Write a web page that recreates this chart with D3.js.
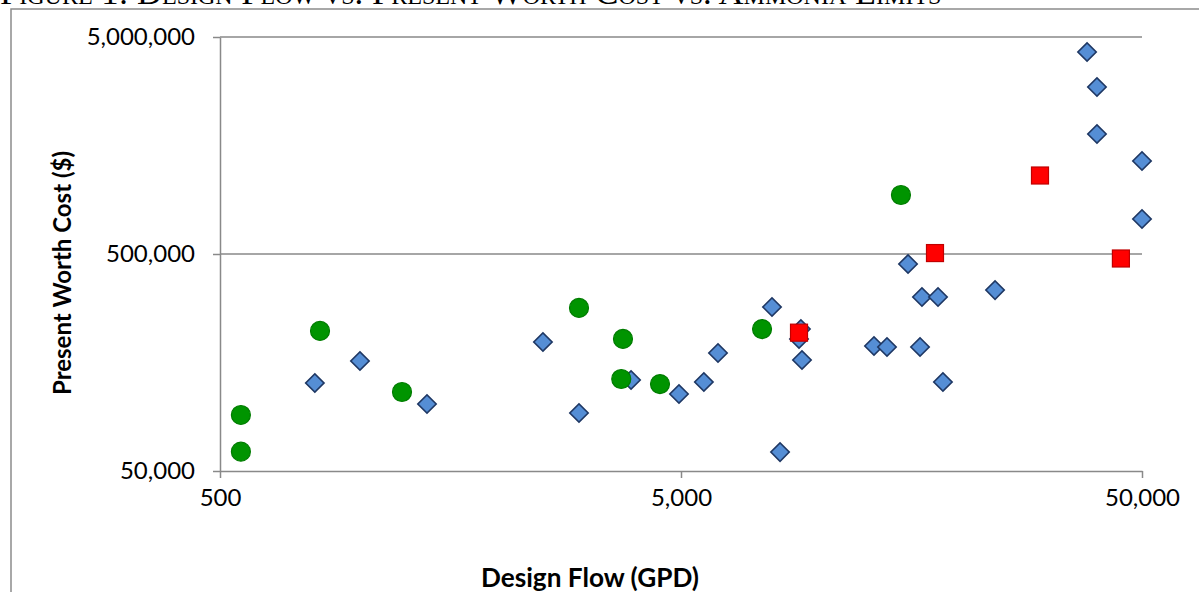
<!DOCTYPE html>
<html><head><meta charset="utf-8">
<script src="https://cdn.jsdelivr.net/npm/d3@7/dist/d3.min.js"></script>
<style>
html,body{margin:0;padding:0;background:#fff;overflow:hidden;}
svg{display:block;}
</style></head>
<body>
<script>
// ---- data ----
const diamondFlow = [803, 1006, 1406, 2509, 3004, 3896, 4950, 5605, 6015, 7877, 9100, 9015, 9150, 8200, 13110, 13990, 16500, 16660, 18050, 24000, 18500, 15540, 38000, 39930, 39930, 50000, 50000];
const diamondCost = [127200, 160700, 101800, 196500, 92500, 131300, 113200, 128600, 174900, 284900, 225500, 203000, 162400, 61100, 188400, 186400, 186400, 316800, 316800, 341000, 128600, 449600, 4265000, 2941000, 1786000, 1341000, 725000];
const circleFlow = [555, 555, 824, 1241, 3004, 3742, 3710, 4502, 7495, 15000];
const circleCost = [90600, 61400, 221000, 115600, 282000, 203000, 132700, 125800, 225500, 935000];
const squareFlow = [9015, 17780, 30040, 45000];
const squareCost = [217000, 505000, 1150000, 476700];
const xTicks = [500, 5000, 50000];
const yTicks = [50000, 500000, 5000000];
const chartTitle = "Figure 1: Design Flow vs. Present Worth Cost vs. Ammonia Limits";
const xTitle = "Design Flow (GPD)";
const yTitle = "Present Worth Cost ($)";

const W = 1199, H = 592;
const svg = d3.select("body").append("svg").attr("width", W).attr("height", H);

// outer chart border
svg.append("rect").attr("x", 11).attr("y", 9).attr("width", 1200).attr("height", 600)
  .attr("fill", "none").attr("stroke", "#8c8c8c").attr("stroke-width", 1.5);

// title (clipped by the top edge, as in the source)
svg.append("text").attr("x", 0).attr("y", 4)
  .attr("font-family", "Liberation Serif, serif").attr("font-size", 34.7)
  .style("font-variant", "small-caps").attr("fill", "#000")
  .text(chartTitle);

const x = d3.scaleLog().domain([500, 50000]).range([220, 1142]);
const y = d3.scaleLog().domain([50000, 5000000]).range([471, 37]);
const fmt = d3.format(",");
const gray = "#898989";

// gridlines
svg.append("g").selectAll("line").data(yTicks.slice(1)).join("line")
  .attr("x1", 220).attr("x2", 1142).attr("y1", d => y(d)).attr("y2", d => y(d))
  .attr("stroke", gray).attr("stroke-width", 1.5);

// axes
const xAxis = svg.append("g").attr("transform", "translate(0,471)")
  .call(d3.axisBottom(x).tickValues(xTicks).tickFormat(fmt).tickSizeInner(7).tickSizeOuter(0).tickPadding(12));
const yAxis = svg.append("g").attr("transform", "translate(220,0)")
  .call(d3.axisLeft(y).tickValues(yTicks).tickFormat(fmt).tickSizeInner(7).tickSizeOuter(0).tickPadding(18));
[xAxis, yAxis].forEach(g => {
  g.select(".domain").attr("stroke", gray).attr("stroke-width", 1.5);
  g.selectAll(".tick line").attr("stroke", gray).attr("stroke-width", 1.5);
  g.selectAll("text").attr("font-family", "Lato, 'Open Sans', sans-serif").attr("font-size", 24).attr("fill", "#000");
});
xAxis.selectAll("text").attr("dy", "0.68em");

// markers: diamonds
svg.append("g").selectAll("path").data(diamondFlow.map((f, i) => [f, diamondCost[i]])).join("path")
  .attr("transform", d => `translate(${x(d[0])},${y(d[1])}) rotate(45)`)
  .attr("d", "M-6.5,-6.5H6.5V6.5H-6.5Z")
  .attr("fill", "#558ed5").attr("stroke", "#1f3864").attr("stroke-width", 1.6);

// circles
svg.append("g").selectAll("circle").data(circleFlow.map((f, i) => [f, circleCost[i]])).join("circle")
  .attr("cx", d => x(d[0])).attr("cy", d => y(d[1])).attr("r", 9.5)
  .attr("fill", "#009400").attr("stroke", "#007c00").attr("stroke-width", 1.2);

// squares
svg.append("g").selectAll("rect").data(squareFlow.map((f, i) => [f, squareCost[i]])).join("rect")
  .attr("x", d => x(d[0]) - 8.5).attr("y", d => y(d[1]) - 8.5).attr("width", 17).attr("height", 17)
  .attr("fill", "#ff0000").attr("stroke", "#c00000").attr("stroke-width", 1.2);

// axis titles
svg.append("text").attr("x", 590).attr("y", 587).attr("text-anchor", "middle")
  .attr("font-family", "Lato, 'Open Sans', sans-serif").attr("font-weight", "bold").attr("font-size", 26.2)
  .text(xTitle);
svg.append("text").attr("transform", "translate(71,273) rotate(-90)").attr("text-anchor", "middle")
  .attr("font-family", "Lato, 'Open Sans', sans-serif").attr("font-weight", "bold").attr("font-size", 24)
  .text(yTitle);
</script>
</body></html>
